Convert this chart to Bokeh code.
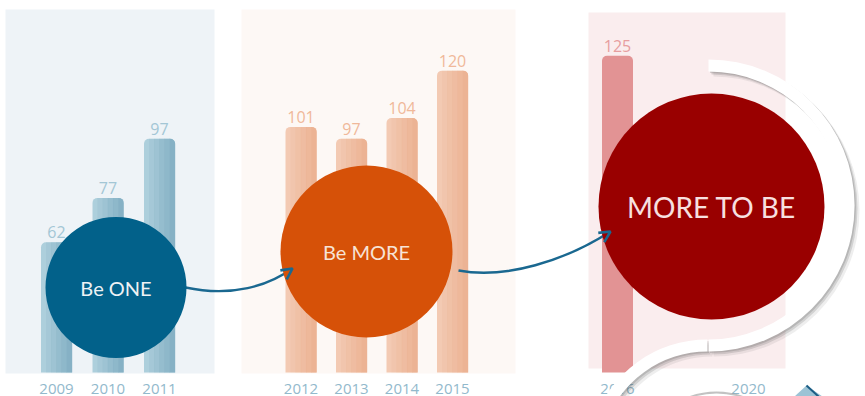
import math
from bokeh.plotting import figure
from bokeh.models import Range1d, Arrow, OpenHead, ColumnDataSource
from bokeh.core.properties import value
from bokeh.embed import file_html
from bokeh.resources import INLINE

# ---------------- data ----------------
years_one = ["2009", "2010", "2011"]
vals_one = [62, 77, 97]
years_more = ["2012", "2013", "2014", "2015"]
vals_more = [101, 97, 104, 120]
years_tobe = ["2016", "2020"]
vals_tobe = [125, None]
phase_labels = ["Be ONE", "Be MORE", "MORE TO BE"]

# ---------------- layout / style ----------------
W, H = 865, 396
BAR_BASE = 18           # value at the foot of the bars
BAR_W = 31
N_STRIPS = 6
panel_first_x = [56, 300.5, 617]
panel_step = [51.5, 50.5, 131]
panel_box = [(5, 214, 9, 373), (241, 515, 9, 373), (588, 785, 12, 368)]
panel_bg = ["#EEF3F7", "#FDF8F5", "#FAEDEE"]
bar_left = ["#ADCFDC", "#F3CAB3", "#E29394"]
bar_right = ["#86B1C5", "#ECB394", "#E29394"]
val_col = ["#A3C6D5", "#F0B89A", "#E79E9F"]
year_col = "#92B9CC"
circ = [(115.5, 287, 70.5, "#02618A", "20px"),
        (366, 251, 86, "#D65108", "20px"),
        (711, 206, 113, "#990000", "28px")]
circ_txt = ["#EEF2F5", "#F7E3D6", "#F7E0E0"]
FONT_NUM = value("Open Sans")
FONT_TXT = value("Lato")

p = figure(width=W, height=H, output_backend="svg", toolbar_location=None,
           x_range=Range1d(0, W), y_range=Range1d(9.9, 143.7),
           min_border=0, outline_line_color=None, background_fill_color="white",
           border_fill_color="white")
p.extra_y_ranges = {"px": Range1d(H, 0)}
p.axis.visible = False
p.grid.visible = False

# panel backgrounds
for (x0, x1, y0, y1), c in zip(panel_box, panel_bg):
    p.quad(left=[x0], right=[x1], top=[y0], bottom=[y1], fill_color=c,
           line_color=None, y_range_name="px")

groups = [(years_one, vals_one), (years_more, vals_more), (years_tobe, vals_tobe)]
sw = BAR_W / N_STRIPS
for gi, (yrs, vals) in enumerate(groups):
    xs = [panel_first_x[gi] + i * panel_step[gi] for i in range(len(yrs))]
    bx = [x for x, v in zip(xs, vals) if v is not None]
    bv = [v for v in vals if v is not None]
    src = ColumnDataSource(dict(x=bx, top=bv, lab=[str(v) for v in bv]))
    p.vbar(x="x", top="top", bottom=BAR_BASE, width=BAR_W, source=src,
           fill_color=bar_left[gi], line_color=None, border_radius=(5, 5, 0, 0))
    # horizontal shading of the bars (light left -> darker right)
    if bar_left[gi] != bar_right[gi]:
        for k in range(1, N_STRIPS):
            off = -BAR_W / 2 + (k + 0.5) * sw
            rad = (0, 5, 0, 0) if k == N_STRIPS - 1 else 0
            p.vbar(x=[x + off for x in bx], top=bv, bottom=BAR_BASE, width=sw + 0.4,
                   fill_color=bar_right[gi], fill_alpha=k / (N_STRIPS - 1),
                   line_color=None, border_radius=rad)
    p.text(x="x", y="top", text="lab", source=src, text_font=FONT_NUM,
           text_font_size="16px", text_color=val_col[gi], text_align="center",
           text_baseline="bottom", y_offset=-4)
    p.text(x=xs, y=[388] * len(xs), text=yrs, text_font=FONT_NUM,
           text_font_size="15px", text_color=year_col, text_align="center",
           text_baseline="middle", y_range_name="px")

# connecting arrows
arrows = [((185, 287), (232, 297), (268, 285), (292, 268)),
          ((458, 270), (505, 279), (565, 260), (610, 231))]
for (s, c0, c1, e) in arrows:
    p.bezier(x0=[s[0]], y0=[s[1]], x1=[e[0]], y1=[e[1]], cx0=[c0[0]], cy0=[c0[1]],
             cx1=[c1[0]], cy1=[c1[1]], line_color="#1A6890", line_width=2.4,
             y_range_name="px")
    dx, dy = e[0] - c1[0], e[1] - c1[1]
    n = math.hypot(dx, dy)
    p.add_layout(Arrow(end=OpenHead(size=11, line_color="#1A6890", line_width=2.6),
                       x_start=e[0] - dx / n * 2, y_start=e[1] - dy / n * 2,
                       x_end=e[0], y_end=e[1], line_color="#1A6890", line_width=2.4,
                       y_range_name="px"))

# circles with phase names
for (cx, cy, r, col, fs), lab, tc in zip(circ, phase_labels, circ_txt):
    p.circle(x=[cx], y=[cy], radius=r, radius_dimension="x", fill_color=col,
             line_color=None, y_range_name="px")
    p.text(x=[cx], y=[cy], text=[lab], text_font=FONT_TXT, text_font_size=fs,
           text_color=tc, text_align="center", text_baseline="middle",
           y_range_name="px")

# decorative white swoosh with soft shadow
for off, a in [(5, 0.10), (3, 0.18), (1.5, 0.22)]:
    p.annular_wedge(x=[708 + off], y=[205 + off], inner_radius=134, outer_radius=146,
                    start_angle=-math.pi / 2, end_angle=math.pi / 2,
                    direction="anticlock", fill_color="#555555", fill_alpha=a,
                    line_color=None, y_range_name="px")
    p.annular_wedge(x=[707 + off], y=[459 + off], inner_radius=108, outer_radius=120,
                    start_angle=math.pi / 2, end_angle=math.pi * 0.85,
                    direction="anticlock", fill_color="#555555", fill_alpha=a,
                    line_color=None, y_range_name="px")
p.annular_wedge(x=[708], y=[205], inner_radius=134, outer_radius=146,
                start_angle=-math.pi / 2, end_angle=math.pi / 2,
                direction="anticlock", fill_color="white", line_color=None,
                y_range_name="px")
p.annular_wedge(x=[707], y=[459], inner_radius=108, outer_radius=120,
                start_angle=math.pi / 2, end_angle=math.pi * 0.9,
                direction="anticlock", fill_color="white", line_color=None,
                y_range_name="px")
# bottom arc hint
p.arc(x=[716], y=[470], radius=78, start_angle=math.pi * 0.3, end_angle=math.pi * 0.7,
      line_color="#9A9A9A", line_width=2, line_alpha=0.6, y_range_name="px")
# small triangle, bottom right
p.patch(x=[794, 806, 822], y=[396, 385, 396], fill_color="#9CC3D5",
        line_color=None, y_range_name="px")
p.line(x=[806, 818], y=[385, 396], line_color="#1B5E85", line_width=2,
       y_range_name="px")

open("out.html", "w").write(file_html(p, INLINE))
